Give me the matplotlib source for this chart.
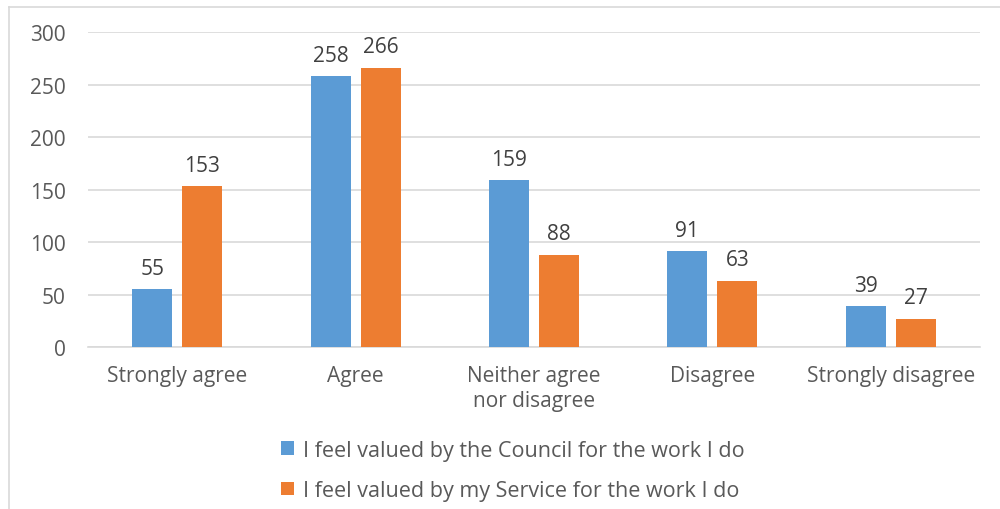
"""
Clustered bar chart: feeling valued by the Council vs by my Service.
"""
import matplotlib.pyplot as plt
import numpy as np

categories = ['Strongly agree', 'Agree', 'Neither agree\nnor disagree', 'Disagree', 'Strongly disagree']
council = [55, 258, 159, 91, 39]
service = [153, 266, 88, 63, 27]
series_names = ['I feel valued by the Council for the work I do',
                'I feel valued by my Service for the work I do']
y_ticks = [0, 50, 100, 150, 200, 250, 300]

BLUE = '#5B9BD5'
ORANGE = '#ED7D31'
TEXT = '#595959'
FS = 15

plt.rcParams['font.family'] = ['Open Sans', 'DejaVu Sans']

fig = plt.figure(figsize=(10, 5.1), dpi=100)
ax = fig.add_axes([0.088, 0.3176, 0.892, 0.6177])

x = np.arange(len(categories))
width = 0.224
offset = 0.14

b1 = ax.bar(x - offset, council, width, color=BLUE, label=series_names[0], zorder=3)
b2 = ax.bar(x + offset, service, width, color=ORANGE, label=series_names[1], zorder=3)

for bars in (b1, b2):
    for bar in bars:
        ax.text(bar.get_x() + bar.get_width() / 2, bar.get_height() + 10,
                str(int(bar.get_height())), ha='center', va='bottom',
                fontsize=FS, color='#404040')

ax.set_xlim(-0.5, len(categories) - 0.5)
ax.set_ylim(0, 300)
ax.set_yticks(y_ticks)
ax.set_xticks(x)
ax.set_xticklabels(categories, fontsize=FS, color=TEXT, linespacing=1.25)
ax.tick_params(axis='y', labelsize=FS, labelcolor=TEXT, length=0, pad=16)
ax.tick_params(axis='x', length=0, pad=13)
ax.grid(axis='y', color='#D9D9D9', linewidth=1.2, zorder=0)
for side in ('left', 'right', 'top'):
    ax.spines[side].set_visible(False)
ax.spines['bottom'].set_color('#D9D9D9')
ax.spines['bottom'].set_linewidth(1.2)

leg = fig.legend(handles=[b1, b2], labels=series_names, loc='upper left',
                 bbox_to_anchor=(0.272, 0.153), ncol=1, frameon=False,
                 fontsize=15.5, handlelength=0.6, handleheight=0.6,
                 handletextpad=0.45, labelspacing=0.9, borderaxespad=0)
for t in leg.get_texts():
    t.set_color(TEXT)

# chart area border (top and left visible in reference)
fig.add_artist(plt.Line2D([0.009, 1.0], [0.985, 0.985], color='#D9D9D9', linewidth=1.2))
fig.add_artist(plt.Line2D([0.009, 0.009], [0.0, 0.985], color='#D9D9D9', linewidth=1.2))

fig.savefig('out.png', dpi=100)
